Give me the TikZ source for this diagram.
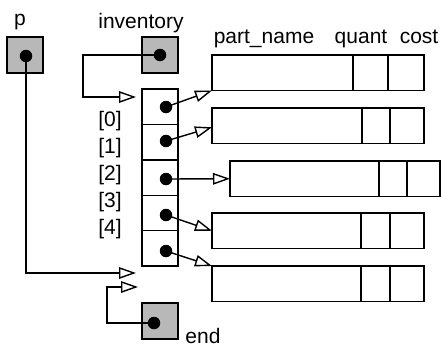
\documentclass[tikz,border=0pt]{standalone}
\usepackage{fontspec}
\setmainfont{Liberation Sans}
\usetikzlibrary{arrows.meta}
\begin{document}
\begin{tikzpicture}[x=1pt,y=-1pt, line width=1.4pt,
  box/.style={draw, fill=black!28, minimum width=36pt, minimum height=36pt, inner sep=0, outer sep=0},
  cell/.style={draw, minimum width=36pt, minimum height=35.4pt, inner sep=0, outer sep=0},
  dot/.style={circle, fill=black, minimum size=12.5pt, inner sep=0},
  lbl/.style={font=\fontsize{21}{25}\selectfont, anchor=base, inner sep=0},
  ptr/.style={-{Triangle[open, length=17pt, width=11.5pt]}},
  rec/.style={draw, anchor=north west, inner sep=0, outer sep=0, minimum height=35.5pt}]
\useasboundingbox (0,0) rectangle (441,346);
% labels
\node[lbl] (lp) at (20,25) {p};
\node[lbl] (linv) at (141,28) {inventory};
\node[lbl] (lpn) at (264,43) {part\_name};
\node[lbl] (lq) at (361,43) {quant};
\node[lbl] (lc) at (419,43) {cost};
\node[lbl] (i0) at (110,126) {[0]};
\node[lbl] (i1) at (110,153) {[1]};
\node[lbl] (i2) at (110,180) {[2]};
\node[lbl] (i3) at (110,207) {[3]};
\node[lbl] (i4) at (110,234) {[4]};
\node[lbl] (lend) at (203,343) {end};
% pointer boxes
\node[box] (pb) at (25,55) {};
\node[box] (ib) at (160,55) {};
\node[box] (eb) at (160,321) {};
% array cells
\node[cell] (c0) at (160,106.7) {};
\node[cell] (c1) at (160,142.1) {};
\node[cell] (c2) at (160,177.5) {};
\node[cell] (c3) at (160,212.9) {};
\node[cell] (c4) at (160,248.3) {};
% records
\node[rec, minimum width=212pt] (r0) at (212,55) {};
\draw (353,55) -- (353,90.5) (388,55) -- (388,90.5);
\node[rec, minimum width=212pt] (r1) at (212,108) {};
\draw (362,108) -- (362,143.5) (390,108) -- (390,143.5);
\node[rec, minimum width=210pt] (r2) at (230,161) {};
\draw (379,161) -- (379,196.5) (407,161) -- (407,196.5);
\node[rec, minimum width=212pt] (r3) at (212,213) {};
\draw (361,213) -- (361,248.5) (390,213) -- (390,248.5);
\node[rec, minimum width=212pt] (r4) at (212,266) {};
\draw (361,266) -- (361,301.5) (390,266) -- (390,301.5);
% dots
\node[dot] (pd) at (26,56) {};
\node[dot] (id) at (160,55) {};
\node[dot] (ed) at (154,323) {};
\node[dot] (d0) at (166,107) {};
\node[dot] (d1) at (166,141) {};
\node[dot] (d2) at (166,179) {};
\node[dot] (d3) at (166,215) {};
\node[dot] (d4) at (166,251) {};
% free ends
\coordinate (ain) at (136,97);
\coordinate (pin) at (136,273);
\coordinate (ein) at (138,287);
% connectors
\draw[ptr] (id.center) -- (83,55) -- (83,97) -- (ain);
\draw[ptr] (pd.center) -- (26,273) -- (pin);
\draw[ptr] (ed.center) -- (107,323) -- (107,287) -- (ein);
\draw[ptr] (d0.center) -- (r0.south west);
\draw[ptr] (d1.center) -- ([yshift=-1.5pt]r1.west);
\draw[ptr] (d2.center) -- (r2.west);
\draw[ptr] (d3.center) -- (r3.west);
\draw[ptr] (d4.center) -- (r4.north west);
\end{tikzpicture}
\end{document}
